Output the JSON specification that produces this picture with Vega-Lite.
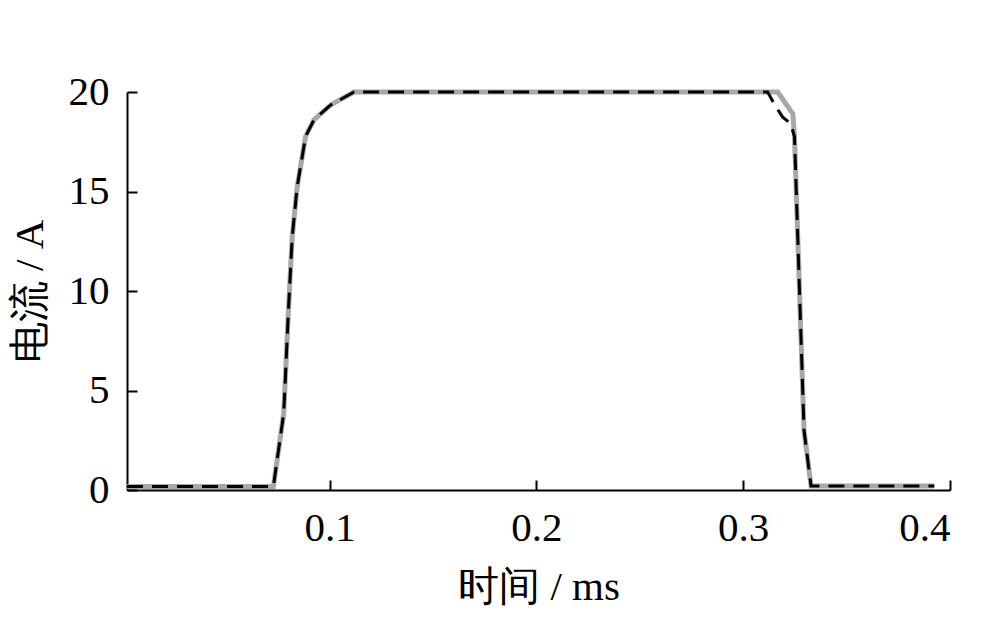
{
  "$schema": "https://vega.github.io/schema/vega-lite/v6.json",
  "autosize": {"type": "none"},
  "padding": {"left": 127, "top": 92, "right": 50, "bottom": 137},
  "width": 823,
  "height": 398,
  "background": "white",
  "config": {
    "view": {"stroke": null},
    "axis": {
      "labelFont": "Liberation Serif",
      "titleFont": "Liberation Serif",
      "labelFontSize": 41,
      "titleFontSize": 41,
      "labelColor": "#000",
      "titleColor": "#000",
      "titleFontWeight": "normal",
      "domainColor": "#000",
      "tickColor": "#000",
      "domainWidth": 2,
      "tickWidth": 2,
      "grid": false
    }
  },
  "data": {
    "values": [
      {"t": 0.002, "i": 0.18, "s": "gray"},
      {"t": 0.0728, "i": 0.18, "s": "gray"},
      {"t": 0.0778, "i": 3.86, "s": "gray"},
      {"t": 0.0800, "i": 8.87, "s": "gray"},
      {"t": 0.0819, "i": 12.72, "s": "gray"},
      {"t": 0.0843, "i": 15.24, "s": "gray"},
      {"t": 0.0884, "i": 17.78, "s": "gray"},
      {"t": 0.0924, "i": 18.6, "s": "gray"},
      {"t": 0.1005, "i": 19.35, "s": "gray"},
      {"t": 0.1118, "i": 20.0, "s": "gray"},
      {"t": 0.3167, "i": 20.0, "s": "gray"},
      {"t": 0.3240, "i": 18.9, "s": "gray"},
      {"t": 0.3248, "i": 17.75, "s": "gray"},
      {"t": 0.3294, "i": 3.0, "s": "gray"},
      {"t": 0.3328, "i": 0.2, "s": "gray"},
      {"t": 0.3924, "i": 0.2, "s": "gray"},
      {"t": 0.002, "i": 0.18, "s": "black"},
      {"t": 0.0728, "i": 0.18, "s": "black"},
      {"t": 0.0778, "i": 3.86, "s": "black"},
      {"t": 0.0800, "i": 8.87, "s": "black"},
      {"t": 0.0819, "i": 12.72, "s": "black"},
      {"t": 0.0843, "i": 15.24, "s": "black"},
      {"t": 0.0884, "i": 17.78, "s": "black"},
      {"t": 0.0924, "i": 18.6, "s": "black"},
      {"t": 0.1005, "i": 19.35, "s": "black"},
      {"t": 0.1118, "i": 20.0, "s": "black"},
      {"t": 0.3118, "i": 20.0, "s": "black"},
      {"t": 0.3150, "i": 19.4, "s": "black"},
      {"t": 0.3190, "i": 18.75, "s": "black"},
      {"t": 0.3230, "i": 18.4, "s": "black"},
      {"t": 0.3248, "i": 17.75, "s": "black"},
      {"t": 0.3294, "i": 3.0, "s": "black"},
      {"t": 0.3328, "i": 0.2, "s": "black"},
      {"t": 0.3924, "i": 0.2, "s": "black"}
    ]
  },
  "layer": [
    {
      "transform": [{"filter": "datum.s === 'gray'"}],
      "mark": {"type": "line", "color": "#a8a8a8", "strokeWidth": 5},
      "encoding": {
        "x": {"field": "t", "type": "quantitative", "scale": {"domain": [0.002, 0.4], "nice": false, "zero": false},
          "axis": {"title": "时间 / ms", "values": [0.1, 0.2, 0.3, 0.4], "format": ".1f", "tickSize": -10, "labelPadding": 28, "titlePadding": 19}},
        "y": {"field": "i", "type": "quantitative", "scale": {"domain": [0, 20], "nice": false},
          "axis": {"title": "电流 / A", "values": [0, 5, 10, 15, 20], "tickSize": -10, "labelPadding": 28, "titlePadding": 17}}
      }
    },
    {
      "transform": [{"filter": "datum.s === 'black'"}],
      "mark": {"type": "line", "color": "#000000", "strokeWidth": 3, "strokeDash": [16, 9]},
      "encoding": {
        "x": {"field": "t", "type": "quantitative"},
        "y": {"field": "i", "type": "quantitative"}
      }
    }
  ]
}
